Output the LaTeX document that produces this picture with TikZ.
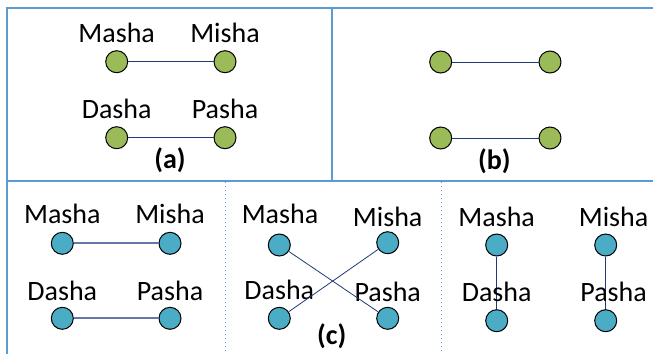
\documentclass[tikz,border=0pt]{standalone}
\usepackage{fontspec}
\setmainfont{Carlito}
\definecolor{framecol}{HTML}{5B9BD5}
\definecolor{olivecol}{HTML}{9BBB59}
\definecolor{tealcol}{HTML}{4BACC6}
\definecolor{navycol}{HTML}{1F3A78}
\definecolor{slatecol}{HTML}{6477A8}
\tikzset{
  gdot/.style={circle,draw=black,line width=1pt,fill=olivecol,minimum size=22pt,inner sep=0pt},
  bdot/.style={circle,draw=black,line width=1pt,fill=tealcol,minimum size=22pt,inner sep=0pt},
  lbl/.style={font=\fontsize{28}{30}\selectfont,inner sep=0pt,anchor=base},
  paneltag/.style={font=\bfseries\fontsize{28}{30}\selectfont,inner sep=0pt},
  link/.style={draw=navycol,line width=0.8pt},
  thicklink/.style={draw=slatecol,line width=1.8pt},
  frameline/.style={draw=framecol,line width=1.1pt},
  sepline/.style={draw=framecol,line width=1pt,dash pattern=on 1.2pt off 2.8pt}
}
\begin{document}
\begin{tikzpicture}[x=1pt,y=-1pt]
\useasboundingbox (0,0) rectangle (653,354);
% frame
\coordinate (tl) at (7,8);
\coordinate (tr) at (653,8);
\coordinate (bl) at (7,354);
\coordinate (ml) at (7,181);
\coordinate (mr) at (653,181);
\coordinate (vt) at (332,8);
\coordinate (vb) at (332,181);
\coordinate (d1t) at (225,182);
\coordinate (d1b) at (225,354);
\coordinate (d2t) at (441.5,182);
\coordinate (d2b) at (441.5,354);
\draw[frameline] (tr) -- (tl) -- (bl);
\draw[frameline] (ml) -- (mr);
\draw[frameline] (vt) -- (vb);
\draw[sepline] (d1t) -- (d1b);
\draw[sepline] (d2t) -- (d2b);

% panel (a)
\node[lbl] (la1) at (116.7,42.7) {Masha};
\node[lbl] (la2) at (225,42.7) {Misha};
\node[lbl] (la3) at (116.7,118.3) {Dasha};
\node[lbl] (la4) at (225,118.3) {Pasha};
\node[gdot] (a1) at (116.7,61.7) {};
\node[gdot] (a2) at (225,61.7) {};
\node[gdot] (a3) at (116.7,137.7) {};
\node[gdot] (a4) at (225,137.7) {};
\draw[link] (a1) -- (a2);
\draw[link] (a3) -- (a4);
\node[paneltag] (ta) at (170,160) {(a)};

% panel (b)
\node[gdot] (b1) at (440.7,62) {};
\node[gdot] (b2) at (550,62) {};
\node[gdot] (b3) at (440.7,138) {};
\node[gdot] (b4) at (550,138) {};
\draw[link] (b1) -- (b2);
\draw[link] (b3) -- (b4);
\node[paneltag] (tb) at (494.3,161) {(b)};

% panel (c) left
\node[lbl] (lc1) at (62.3,223.3) {Masha};
\node[lbl] (lc2) at (170,223.3) {Misha};
\node[lbl] (lc3) at (62.3,300) {Dasha};
\node[lbl] (lc4) at (170,300) {Pasha};
\node[bdot] (c1) at (62.3,243.3) {};
\node[bdot] (c2) at (170,243.3) {};
\node[bdot] (c3) at (62.3,318.3) {};
\node[bdot] (c4) at (170,318.3) {};
\draw[thicklink] (c1) -- (c2);
\draw[thicklink] (c3) -- (c4);

% panel (c) middle
\node[lbl] (ld1) at (280,223.3) {Masha};
\node[lbl] (ld2) at (387.7,226.7) {Misha};
\node[lbl] (ld3) at (279.3,299.3) {Dasha};
\node[lbl] (ld4) at (387.7,301.7) {Pasha};
\node[bdot] (d1) at (279.3,245) {};
\node[bdot] (d2) at (387.7,242.7) {};
\node[bdot] (d3) at (279.3,318.3) {};
\node[bdot] (d4) at (387.7,318.3) {};
\draw[link] (d1) -- (d4);
\draw[link] (d2) -- (d3);
\node[paneltag] (tc) at (331.7,336.7) {(c)};

% panel (c) right
\node[bdot] (e1) at (496.7,245) {};
\node[bdot] (e2) at (605.7,245) {};
\node[bdot] (e3) at (496.7,320.7) {};
\node[bdot] (e4) at (605.7,320.7) {};
\draw[link] (e1) -- (e3);
\draw[link] (e2) -- (e4);
\node[lbl] (le1) at (496.7,226) {Masha};
\node[lbl] (le2) at (613.6,226) {Misha};
\node[lbl] (le3) at (496.7,301) {Dasha};
\node[lbl] (le4) at (613.6,301) {Pasha};
\end{tikzpicture}
\end{document}
